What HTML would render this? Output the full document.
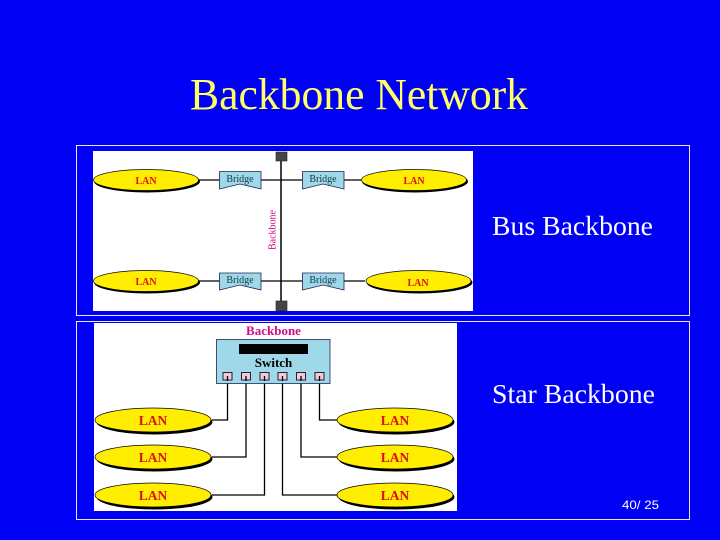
<!DOCTYPE html>
<html><head><meta charset="utf-8"><style>html,body{margin:0;padding:0;background:#0000f5;width:720px;height:540px;overflow:hidden}svg{display:block}</style></head><body>
<svg width="720" height="540" viewBox="0 0 720 540" xmlns="http://www.w3.org/2000/svg">
<defs><filter id="b" x="-5%" y="-5%" width="110%" height="110%"><feGaussianBlur stdDeviation="0.22"/></filter></defs>
<rect width="720" height="540" fill="#0000f5"/>
<text x="190" y="109" font-family="Liberation Serif" font-size="44" fill="#ffff66" textLength="338" lengthAdjust="spacingAndGlyphs">Backbone Network</text>
<rect x="76.5" y="145.5" width="613" height="170" fill="none" stroke="#e8e8ff"/>
<rect x="76.5" y="321.5" width="613" height="198" fill="none" stroke="#e8e8ff"/>
<rect x="93" y="151" width="380" height="160" fill="#fff"/>
<rect x="94" y="323" width="363" height="188" fill="#fff"/>
<g filter="url(#b)">
<g stroke="#000" stroke-width="1.3" fill="none">
<path d="M199 180H361M199 281H365"/>
<path d="M281 155V306" stroke-width="1.5"/>
<path d="M227.500 376V420H212M246 376V457H212M264.500 376V495H212M282.500 376V495H337M301 376V457H337M319.500 376V420H337"/>
</g>
<rect x="276" y="152" width="11" height="9" fill="#444" stroke="#222" stroke-width=".6"/>
<rect x="276" y="301" width="11" height="10" fill="#444" stroke="#222" stroke-width=".6"/>
<g fill="#9fd8e8" stroke="#225" stroke-width=".8">
<path d="M219.500 171.500H261V189L240 184L219.500 189Z"/>
<path d="M302.500 171.500H344V189L323 184L302.500 189Z"/>
<path d="M219.500 273H261V290L240 285L219.500 290Z"/>
<path d="M302.500 273H344V290L323 285L302.500 290Z"/>
<rect x="216.500" y="339.500" width="113.500" height="44"/>
</g>
<g fill="#000">
<ellipse cx="147" cy="181.500" rx="53" ry="11"/><ellipse cx="415" cy="181.500" rx="53" ry="11"/>
<ellipse cx="147" cy="282.500" rx="53" ry="11"/><ellipse cx="419.500" cy="282.500" rx="53" ry="11"/>
<ellipse cx="154.500" cy="422" rx="58" ry="12.500"/><ellipse cx="154.500" cy="459" rx="58" ry="12.500"/><ellipse cx="154.500" cy="497" rx="58" ry="12.500"/>
<ellipse cx="396.500" cy="422" rx="58" ry="12.500"/><ellipse cx="396.500" cy="459" rx="58" ry="12.500"/><ellipse cx="396.500" cy="497" rx="58" ry="12.500"/>
</g>
<g fill="#ffee00" stroke="#000" stroke-width=".7">
<ellipse cx="146" cy="180" rx="52.500" ry="10.500"/><ellipse cx="414" cy="180" rx="52.500" ry="10.500"/>
<ellipse cx="146" cy="281" rx="52.500" ry="10.500"/><ellipse cx="418.500" cy="281" rx="52.500" ry="10.500"/>
<ellipse cx="153" cy="420" rx="58" ry="12"/><ellipse cx="153" cy="457" rx="58" ry="12"/><ellipse cx="153" cy="495" rx="58" ry="12"/>
<ellipse cx="395" cy="420" rx="58" ry="12"/><ellipse cx="395" cy="457" rx="58" ry="12"/><ellipse cx="395" cy="495" rx="58" ry="12"/>
</g>
<rect x="239" y="344" width="69" height="10" fill="#000"/>
<g fill="#f2c8dc" stroke="#223" stroke-width="1">
<rect x="223" y="372.500" width="9" height="7.500"/><rect x="241.500" y="372.500" width="9" height="7.500"/><rect x="260" y="372.500" width="9" height="7.500"/>
<rect x="278" y="372.500" width="9" height="7.500"/><rect x="296.500" y="372.500" width="9" height="7.500"/><rect x="315" y="372.500" width="9" height="7.500"/>
</g>
<g stroke="#000" stroke-width="1.3"><path d="M227.500 376V381M246 376V381M264.500 376V381M282.500 376V381M301 376V381M319.500 376V381"/></g>
<g font-family="Liberation Serif" fill="#e01010" font-weight="bold" text-anchor="middle">
<g font-size="10"><text x="146" y="184">LAN</text><text x="414" y="184">LAN</text><text x="146" y="285">LAN</text><text x="418" y="286">LAN</text></g>
<g font-size="13.500"><text x="153" y="425">LAN</text><text x="153" y="462">LAN</text><text x="153" y="500">LAN</text><text x="395" y="425">LAN</text><text x="395" y="462">LAN</text><text x="395" y="500">LAN</text></g>
</g>
<g font-family="Liberation Serif" fill="#113a4a" font-size="10" text-anchor="middle"><text x="240" y="182">Bridge</text><text x="323" y="182">Bridge</text><text x="240" y="283">Bridge</text><text x="323" y="283">Bridge</text></g>
<text x="273.500" y="367" font-family="Liberation Serif" font-size="13" font-weight="bold" fill="#000" text-anchor="middle">Switch</text>
<text x="273.500" y="335" font-family="Liberation Serif" font-size="13" font-weight="bold" fill="#d01080" text-anchor="middle">Backbone</text>
<text transform="translate(275.500,250) rotate(-90)" font-family="Liberation Serif" font-size="10" fill="#d01080">Backbone</text>
</g>
<text x="492" y="235" font-family="Liberation Serif" font-size="27" fill="#fff" textLength="161" lengthAdjust="spacingAndGlyphs">Bus Backbone</text>
<text x="492" y="403" font-family="Liberation Serif" font-size="27" fill="#fff" textLength="163" lengthAdjust="spacingAndGlyphs">Star Backbone</text>
<text x="622" y="509" font-family="Liberation Sans" font-size="12" fill="#fff" textLength="37" lengthAdjust="spacingAndGlyphs">40/ 25</text>
</svg>
</body></html>
